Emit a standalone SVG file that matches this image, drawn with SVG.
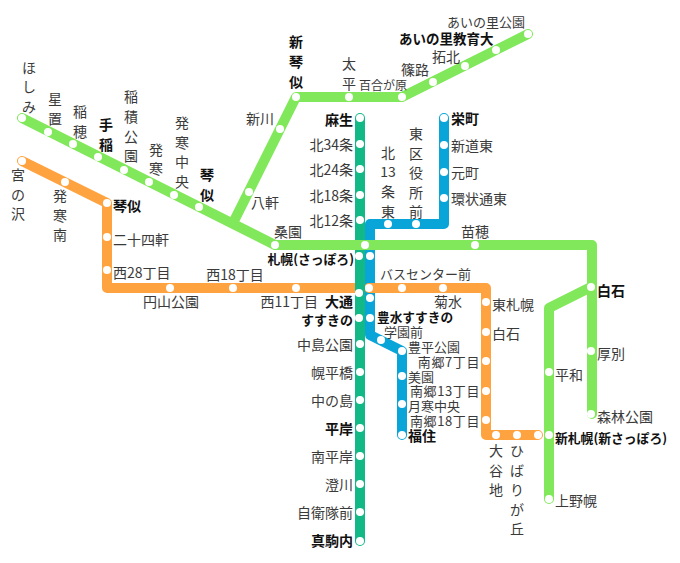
<svg xmlns="http://www.w3.org/2000/svg" width="680" height="563" viewBox="0 0 680 563">
<style>
text{font-family:"Noto Sans CJK JP","Noto Sans",sans-serif;font-size:14px;fill:#3a3a3a;dominant-baseline:central}
.b{font-weight:700;fill:#111}
.e{text-anchor:end}
.m{text-anchor:middle}
.s{font-size:12px}
.t{font-size:13px}
.n{font-size:13px;letter-spacing:.6px}
circle{fill:#fff;stroke:none}
.l{fill:none;stroke-linecap:round;stroke-linejoin:round}
.g{stroke:#80e85a;stroke-width:10}
.c{stroke:#12b886;stroke-width:10}
.u{stroke:#0aa5d8;stroke-width:10}
.o{stroke:#ffa340;stroke-width:10}
</style>
<rect width="680" height="563" fill="#fff"/>
<g id="connectors">
<path class="l u" d="M444 118V224H370V335L402 351V435"/>
<path class="l o" d="M22 161L107 203V288H356"/>
<path class="l o" d="M369 288H486V435H538"/>
<path class="l c" d="M360 118V541"/>
<path class="l g" d="M22 118L275 245H592V414"/>
<path class="l g" d="M234 221L296 97H402L528 34"/>
<path class="l g" d="M549 499V308L591 287"/>
</g>
<g id="n-hoshimi"><circle cx="22" cy="118" r="4"/><text class="m" x="29" y="67">ほ</text><text class="m" x="29" y="86">し</text><text class="m" x="29" y="106">み</text></g>
<g id="n-hoshioki"><circle cx="48" cy="132" r="4"/><text class="m" x="55" y="98">星</text><text class="m" x="55" y="118">置</text></g>
<g id="n-inaho"><circle cx="73" cy="144" r="4"/><text class="m" x="80" y="111">稲</text><text class="m" x="80" y="131">穂</text></g>
<g id="n-teine"><circle cx="98" cy="157" r="4"/><text class="m b" x="106" y="124">手</text><text class="m b" x="106" y="144">稲</text></g>
<g id="n-inazumi"><circle cx="124" cy="170" r="4"/><text class="m" x="131" y="96">稲</text><text class="m" x="131" y="116">積</text><text class="m" x="131" y="136">公</text><text class="m" x="131" y="155">園</text></g>
<g id="n-hassamu"><circle cx="149" cy="182" r="4"/><text class="m" x="156" y="149">発</text><text class="m" x="156" y="168">寒</text></g>
<g id="n-hassamuchuo"><circle cx="174" cy="195" r="4"/><text class="m" x="182" y="122">発</text><text class="m" x="182" y="142">寒</text><text class="m" x="182" y="161">中</text><text class="m" x="182" y="181">央</text></g>
<g id="n-kotoni-jr"><circle cx="199" cy="207" r="4"/><text class="m b" x="207" y="174">琴</text><text class="m b" x="207" y="194">似</text></g>
<g id="n-soen"><circle cx="275" cy="245" r="4"/><text class="m" x="288" y="231">桑園</text></g>
<g id="n-sapporo-jr"><circle cx="365" cy="245" r="4"/><text class="e b" x="354" y="258" style="font-size:12.8px">札幌(さっぽろ)</text></g>
<g id="n-naebo"><circle cx="475" cy="245" r="4"/><text class="m" x="475" y="231">苗穂</text></g>
<g id="n-shiroishi-jr"><circle cx="591" cy="287" r="4"/><text class="b" x="597" y="290">白石</text></g>
<g id="n-atsubetsu"><circle cx="591" cy="351" r="4"/><text x="597" y="353">厚別</text></g>
<g id="n-shinrin"><circle cx="591" cy="414" r="4"/><text x="597" y="416">森林公園</text></g>
<g id="n-hachiken"><circle cx="249" cy="192" r="4"/><text x="251" y="202">八軒</text></g>
<g id="n-shinkawa"><circle cx="280" cy="129" r="4"/><text class="e" x="274" y="118">新川</text></g>
<g id="n-shinkotoni"><circle cx="296" cy="97" r="4"/><text class="m b" x="296" y="41">新</text><text class="m b" x="296" y="61">琴</text><text class="m b" x="296" y="81">似</text></g>
<g id="n-futoshi"><circle cx="349" cy="97" r="4"/><text class="m" x="349" y="63">太</text><text class="m" x="349" y="83">平</text></g>
<g id="n-yurigahara"><circle cx="402" cy="97" r="4"/><text class="s" x="359" y="84">百合が原</text></g>
<g id="n-shinoro"><circle cx="433" cy="82" r="4"/><text class="m" x="415" y="69">篠路</text></g>
<g id="n-takuhoku"><circle cx="465" cy="66" r="4"/><text class="m" x="446" y="56">拓北</text></g>
<g id="n-ainosato-kyoiku"><circle cx="496" cy="50" r="4"/><text class="b" x="399" y="38" style="font-size:13.5px">あいの里教育大</text></g>
<g id="n-ainosato-koen"><circle cx="528" cy="34" r="4"/><text x="447" y="21" style="font-size:13px">あいの里公園</text></g>
<g id="n-asabu"><circle cx="360" cy="118" r="4"/><text class="e b" x="353" y="119">麻生</text></g>
<g id="n-k34"><circle cx="360" cy="144" r="4"/><text class="e" x="353" y="144">北34条</text></g>
<g id="n-k24"><circle cx="360" cy="169" r="4"/><text class="e" x="353" y="169">北24条</text></g>
<g id="n-k18"><circle cx="360" cy="195" r="4"/><text class="e" x="353" y="195">北18条</text></g>
<g id="n-k12"><circle cx="360" cy="220" r="4"/><text class="e" x="353" y="220">北12条</text></g>
<g id="n-sapporo-n"><circle cx="359" cy="256" r="4"/></g>
<g id="n-odori-n"><circle cx="359" cy="293" r="4"/><text class="e b" x="353" y="301">大通</text></g>
<g id="n-susukino"><circle cx="359" cy="318" r="4"/><text class="e b t" x="353" y="319">すすきの</text></g>
<g id="n-nakajima"><circle cx="360" cy="344" r="4"/><text class="e" x="353" y="344">中島公園</text></g>
<g id="n-horohira"><circle cx="360" cy="372" r="4"/><text class="e" x="353" y="372">幌平橋</text></g>
<g id="n-nakanoshima"><circle cx="360" cy="400" r="4"/><text class="e" x="353" y="400">中の島</text></g>
<g id="n-hiragishi"><circle cx="360" cy="428" r="4"/><text class="e b" x="353" y="428">平岸</text></g>
<g id="n-minamihiragishi"><circle cx="360" cy="456" r="4"/><text class="e" x="353" y="456">南平岸</text></g>
<g id="n-sumikawa"><circle cx="360" cy="484" r="4"/><text class="e" x="353" y="484">澄川</text></g>
<g id="n-jieitai"><circle cx="360" cy="512" r="4"/><text class="e" x="353" y="512">自衛隊前</text></g>
<g id="n-makomanai"><circle cx="360" cy="541" r="4"/><text class="e b" x="353" y="540">真駒内</text></g>
<g id="n-sakaemachi"><circle cx="444" cy="118" r="4"/><text class="b" x="451" y="118">栄町</text></g>
<g id="n-shindohigashi"><circle cx="444" cy="145" r="4"/><text x="451" y="145">新道東</text></g>
<g id="n-motomachi"><circle cx="444" cy="172" r="4"/><text x="451" y="172">元町</text></g>
<g id="n-kanjo"><circle cx="444" cy="198" r="4"/><text x="451" y="198">環状通東</text></g>
<g id="n-higashikuyakusho"><circle cx="416" cy="224" r="4"/><text class="m" x="416" y="133">東</text><text class="m" x="416" y="153">区</text><text class="m" x="416" y="172">役</text><text class="m" x="416" y="192">所</text><text class="m" x="416" y="211">前</text></g>
<g id="n-k13"><circle cx="388" cy="224" r="4"/><text class="m" x="388" y="152">北</text><text class="m" x="388" y="171">13</text><text class="m" x="388" y="191">条</text><text class="m" x="388" y="211">東</text></g>
<g id="n-sapporo-t"><circle cx="370" cy="256" r="4"/></g>
<g id="n-odori-t"><circle cx="370" cy="298" r="4"/></g>
<g id="n-hosui"><circle cx="370" cy="318" r="4"/><text class="b" x="377" y="316" style="font-size:12.7px">豊水すすきの</text></g>
<g id="n-gakuen"><circle cx="381" cy="340" r="4"/><text class="t" x="384" y="331">学園前</text></g>
<g id="n-toyohira"><circle cx="402" cy="351" r="4"/><text class="t" x="408" y="346">豊平公園</text></g>
<g id="n-misono"><circle cx="402" cy="376" r="4"/><text class="t" x="408" y="376">美園</text></g>
<g id="n-tsukisamu"><circle cx="402" cy="404" r="4"/><text class="t" x="408" y="405">月寒中央</text></g>
<g id="n-fukuzumi"><circle cx="402" cy="435" r="4"/><text class="b" x="408" y="435">福住</text></g>
<g id="n-miyanosawa"><circle cx="22" cy="161" r="4"/><text class="m" x="18" y="174">宮</text><text class="m" x="18" y="194">の</text><text class="m" x="18" y="213">沢</text></g>
<g id="n-hassamuminami"><circle cx="65" cy="182" r="4"/><text class="m" x="60" y="195">発</text><text class="m" x="60" y="215">寒</text><text class="m" x="60" y="234">南</text></g>
<g id="n-kotoni-t"><circle cx="107" cy="203" r="4"/><text class="b" x="113" y="205">琴似</text></g>
<g id="n-nijuyonken"><circle cx="107" cy="237" r="4"/><text x="113" y="239">二十四軒</text></g>
<g id="n-n28"><circle cx="107" cy="270" r="4"/><text x="113" y="272">西28丁目</text></g>
<g id="n-maruyama"><circle cx="170" cy="288" r="4"/><text class="m" x="171" y="301">円山公園</text></g>
<g id="n-n18"><circle cx="233" cy="288" r="4"/><text class="m" x="235" y="274">西18丁目</text></g>
<g id="n-n11"><circle cx="296" cy="288" r="4"/><text class="e" x="318" y="301">西11丁目</text></g>
<g id="n-buscenter"><circle cx="369" cy="288" r="4"/><text x="380" y="273" style="font-size:13px">バスセンター前</text></g>
<g id="n-kikusui-a"><circle cx="402" cy="288" r="4"/></g>
<g id="n-kikusui"><circle cx="443" cy="288" r="4"/><text class="m" x="448" y="301">菊水</text></g>
<g id="n-higashisapporo"><circle cx="486" cy="302" r="4"/><text x="492" y="304">東札幌</text></g>
<g id="n-shiroishi-t"><circle cx="486" cy="332" r="4"/><text x="492" y="333">白石</text></g>
<g id="n-nango7"><circle cx="486" cy="361" r="4"/><text class="e n" x="480" y="361">南郷7丁目</text></g>
<g id="n-nango13"><circle cx="486" cy="391" r="4"/><text class="e n" x="480" y="390">南郷13丁目</text></g>
<g id="n-nango18"><circle cx="486" cy="420" r="4"/><text class="e n" x="480" y="420">南郷18丁目</text></g>
<g id="n-oyachi"><circle cx="496" cy="435" r="4"/><text class="m" x="496" y="450">大</text><text class="m" x="496" y="470">谷</text><text class="m" x="496" y="489">地</text></g>
<g id="n-hibarigaoka"><circle cx="517" cy="435" r="4"/><text class="m" x="517" y="450">ひ</text><text class="m" x="517" y="470">ば</text><text class="m" x="517" y="489">り</text><text class="m" x="517" y="509">が</text><text class="m" x="517" y="528">丘</text></g>
<g id="n-shinsapporo-t"><circle cx="538" cy="435" r="4"/></g>
<g id="n-shinsapporo"><circle cx="549" cy="435" r="4"/><text class="b" x="555" y="437" style="font-size:12.8px">新札幌(新さっぽろ)</text></g>
<g id="n-heiwa"><circle cx="549" cy="372" r="4"/><text x="555" y="374">平和</text></g>
<g id="n-kaminopporo"><circle cx="549" cy="499" r="4"/><text x="555" y="500">上野幌</text></g>
</svg>
